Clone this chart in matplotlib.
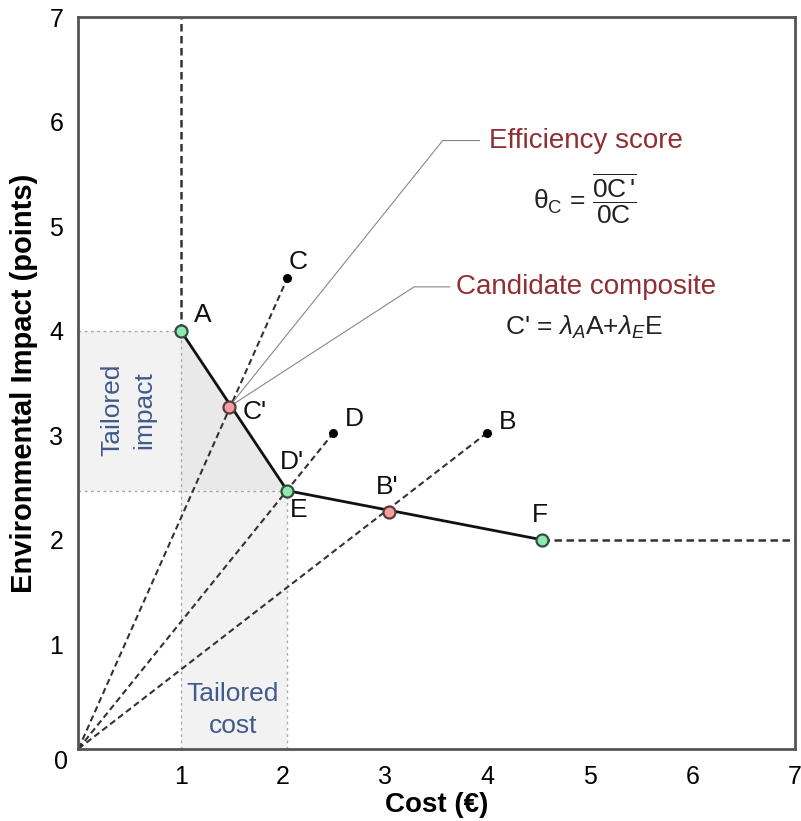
import matplotlib.pyplot as plt
from matplotlib.patches import Polygon, Rectangle

plt.rcParams['font.family'] = ['Liberation Sans', 'DejaVu Sans']
plt.rcParams['mathtext.fontset'] = 'custom'
plt.rcParams['mathtext.rm'] = 'Liberation Sans'
plt.rcParams['mathtext.it'] = 'Liberation Sans:italic'

# frontier points (cost, impact)
frontier_names = ['A', 'E', 'F']
frontier_x = [1.0, 2.04, 4.53]
frontier_y = [4.0, 2.47, 2.0]

# inefficient units
unit_names = ['C', 'D', 'B']
unit_x = [2.04, 2.49, 3.99]
unit_y = [4.5, 3.02, 3.02]

# projections on the frontier
proj_names = ["C'", "B'"]
proj_x = [1.47, 3.04]
proj_y = [3.27, 2.27]

fig = plt.figure(figsize=(8.01, 8.21), dpi=100)
ax = fig.add_axes([0.098, 0.088, 0.894, 0.891])
ax.set_xlim(0, 7)
ax.set_ylim(0, 7)

ax_x, ax_y = frontier_x[0], frontier_y[0]
ex, ey = frontier_x[1], frontier_y[1]

# shaded "tailored" areas
ax.add_patch(Rectangle((0, ey), ax_x, ax_y - ey, color='#f2f2f2', lw=0, zorder=0))
ax.add_patch(Rectangle((ax_x, 0), ex - ax_x, ey, color='#f2f2f2', lw=0, zorder=0))
ax.add_patch(Polygon([(ax_x, ax_y), (ex, ey), (ax_x, ey)], closed=True,
                     color='#e9e9e9', lw=0, zorder=0))

# dotted guide lines
gs = dict(color='#aaaaaa', lw=1, ls=(0, (2, 2.5)), zorder=1)
ax.plot([0, ax_x], [ax_y, ax_y], **gs)
ax.plot([ax_x, ax_x], [0, ax_y], **gs)
ax.plot([0, ex], [ey, ey], **gs)
ax.plot([ex, ex], [0, ey], **gs)

# rays from origin
for ux, uy in zip(unit_x, unit_y):
    ax.plot([0, ux], [0, uy], color='#333333', lw=1.5, ls=(0, (3, 1.8)), zorder=2)

# frontier extensions
ax.plot([ax_x, ax_x], [ax_y, 7], color='#333333', lw=1.8, ls=(0, (3, 1.8)), zorder=2)
ax.plot([frontier_x[-1], 7], [frontier_y[-1], frontier_y[-1]], color='#333333', lw=1.8,
        ls=(0, (3, 1.8)), zorder=2)

# frontier
ax.plot(frontier_x, frontier_y, color='#111111', lw=2, zorder=3)

# annotation leaders
cx, cy = proj_x[0], proj_y[0]
ax.plot([cx, 3.56, 3.92], [cy, 5.82, 5.82], color='#888888', lw=0.8, zorder=2)
ax.plot([cx, 3.28, 3.63], [cy, 4.42, 4.42], color='#888888', lw=0.8, zorder=2)

# markers
ax.scatter(frontier_x, frontier_y, s=75, color='#8ee8b0', edgecolor='#2f4f3f', lw=1.6, zorder=5)
ax.scatter(proj_x, proj_y, s=75, color='#f5a0a0', edgecolor='#5a3a3a', lw=1.6, zorder=5)
ax.scatter(unit_x, unit_y, s=30, color='black', zorder=5)

fs = 19
lab = dict(fontsize=fs, ha='center', va='center', color='#111111')
ax.text(1.21, 4.15, 'A', **lab)
ax.text(2.15, 4.66, 'C', **lab)
ax.text(1.72, 3.22, "C'", **lab)
ax.text(2.70, 3.16, 'D', **lab)
ax.text(4.19, 3.13, 'B', **lab)
ax.text(2.09, 2.74, "D'", **lab)
ax.text(2.15, 2.28, 'E', **lab)
ax.text(3.02, 2.50, "B'", **lab)
ax.text(4.51, 2.24, 'F', **lab)

blue = '#3f5a8c'
ax.text(0.49, 3.24, 'Tailored\nimpact', fontsize=19, color=blue, rotation=90,
        ha='center', va='center', linespacing=1.4)
ax.text(1.51, 0.37, 'Tailored\ncost', fontsize=19, color=blue, ha='center', va='center',
        linespacing=1.4)

red = '#8f2f33'
ax.text(4.01, 5.82, 'Efficiency score', fontsize=20, color=red, ha='left', va='center')
ax.text(4.95, 5.26, r"θ$_\mathrm{C}$ = $\dfrac{\overline{\mathrm{0C}\,\mathrm{ʹ}}}{\mathrm{0C}}$",
        fontsize=19, color='#222222', ha='center', va='center')
ax.text(3.69, 4.42, 'Candidate composite', fontsize=20, color=red, ha='left', va='center')
ax.text(4.94, 4.03, r"C' = $\mathit{\lambda_A}$A+$\mathit{\lambda_E}$E", fontsize=19,
        color='#222222', ha='center', va='center')

# axes styling
for sp in ax.spines.values():
    sp.set_color('#555555')
    sp.set_linewidth(2)
ax.set_xticks(range(1, 8))
ax.set_yticks(range(1, 8))
ax.tick_params(length=0, labelsize=18, pad=12)
ax.tick_params(axis='y', pad=11)
ax.text(-0.17, -0.13, '0', fontsize=18, ha='center', va='center')
ax.set_xlabel('Cost (€)', fontsize=20, fontweight='bold', labelpad=2)
ax.set_ylabel('Environmental Impact (points)', fontsize=21, fontweight='bold', labelpad=8)

fig.savefig('out.png', dpi=100)
